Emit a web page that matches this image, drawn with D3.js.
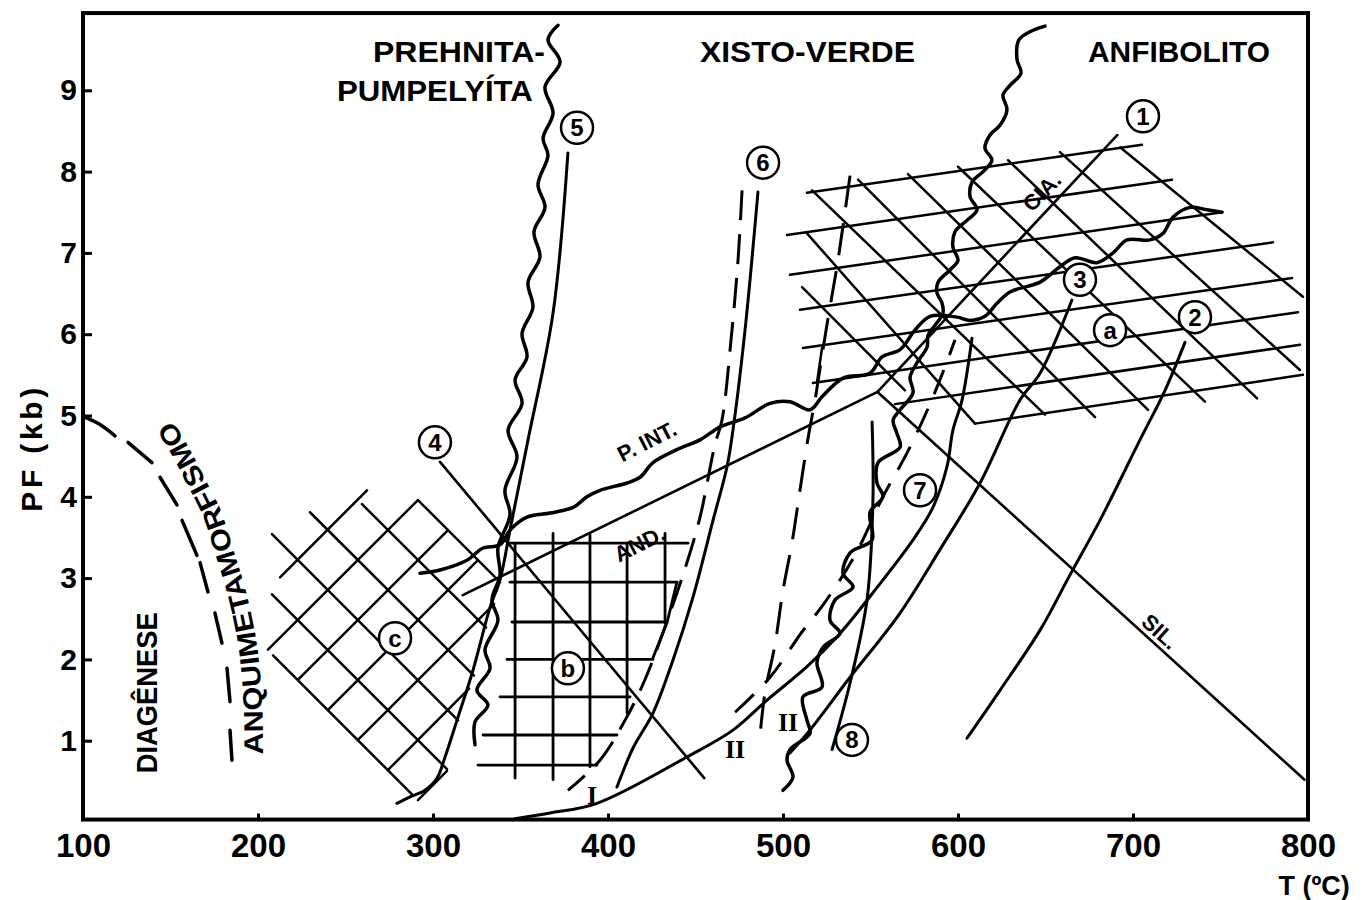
<!DOCTYPE html>
<html>
<head>
<meta charset="utf-8">
<script src="https://cdn.jsdelivr.net/npm/d3@7"></script>
<style>
  body { margin: 0; background: #fff; }
  text { font-family: "Liberation Sans", Arial, sans-serif; font-weight: bold; fill: #000; }
</style>
</head>
<body>
<svg id="chart" width="1364" height="900"></svg>
<script>
// axes
const xTicks = [100, 200, 300, 400, 500, 600, 700, 800];
const yTicks = [1, 2, 3, 4, 5, 6, 7, 8, 9];

// Al2SiO5 triple point lines [T, P]
const andKy = [[317, 2.79], [554, 5.29]];
const kySil = [[554, 5.29], [691, 8.45]];
const andSil = [[554, 5.29], [798, 0.52]];
const line4 = [[304, 4.43], [455, 0.54]];

// reaction curves
const curve5 = [[377.1, 8.23], [368.6, 6.26], [354.3, 4.70], [344, 3.59], [338.3, 2.98], [332.6, 2.64],
  [322.9, 1.87], [313.7, 1.25], [306.9, 0.80], [302.3, 0.54], [295.4, 0.39], [286.9, 0.31], [279.4, 0.23]];
const curve6 = [[485.7, 7.75], [478.3, 6.05], [471.4, 4.82], [468, 4.37], [460, 3.71], [448.6, 2.77],
  [437.1, 1.99], [425.7, 1.34], [414.3, 0.91], [405.1, 0.43]];
const curve7 = [[346.9, 0.04], [366.9, 0.11], [393.7, 0.23], [445.1, 0.80], [471.4, 1.13], [490.9, 1.50],
  [513.7, 1.91], [532.6, 2.32], [551.4, 2.82], [574.3, 3.47], [585.7, 3.87], [593.7, 4.37], [597.1, 4.82],
  [602.3, 5.19], [608, 5.95]];
const curve3 = [[665.1, 6.42], [646.9, 5.52], [635.4, 5.19], [612.6, 4.17], [589.7, 3.35], [566.9, 2.57],
  [538.3, 1.78], [515.4, 1.13], [504, 0.85]];
const curve2 = [[729.7, 5.90], [718.3, 5.31], [704, 4.70], [681.1, 3.71], [664, 3.04], [646.9, 2.36],
  [624, 1.62], [605.1, 1.03]];
const curve8 = [[550.9, 4.92], [551.4, 3.96], [548, 2.73], [538.3, 1.71], [528, 0.89]];

// dashed curves
const dash6 = [[476.6, 7.77], [474.3, 6.91], [470.3, 5.93], [465.1, 4.94], [461.1, 4.64], [452.6, 3.75],
  [445.1, 3.19], [435.4, 2.57], [421.1, 1.75], [409.7, 1.25], [395.4, 0.76], [377.1, 0.39]];
const dash500 = [[538.3, 7.95], [531.4, 6.91], [524.6, 6.05], [518.3, 5.19], [514.3, 4.72], [509.7, 4.08],
  [505.1, 3.43], [500, 2.85], [495.4, 2.18], [489.7, 1.59], [486.9, 1.07]];
const dashII = [[472.6, 1.35], [492.6, 1.78], [510.9, 2.34], [522.9, 2.67], [541.1, 3.28], [557.1, 4.00],
  [570.9, 4.54], [581.1, 5.00], [589.7, 5.44], [598.3, 5.93]];

// wavy facies boundaries
const wavyPrehnite = [[371.4, 9.80], [365.7, 9.62], [372.6, 9.35], [364, 9.04], [368.6, 8.72], [362.9, 8.41],
  [365.7, 8.20], [360, 7.84], [364, 7.56], [357.7, 7.26], [361.1, 6.95], [354.3, 6.64], [357.1, 6.33],
  [350.9, 6.01], [353.7, 5.72], [346.9, 5.44], [350.9, 5.15], [342.9, 4.82], [348, 4.49], [341.1, 4.08],
  [344, 3.78], [337.1, 3.37], [338.3, 3.04], [333.7, 2.73], [337.1, 2.48], [329.7, 2.12], [332.6, 1.89],
  [325.1, 1.62], [331.4, 1.44], [324, 1.23], [324, 0.95]];
const wavyPInt = [[292.6, 3.06], [304, 3.10], [319.4, 3.22], [328.6, 3.37], [338.3, 3.41], [344, 3.59],
  [353.7, 3.75], [366.9, 3.80], [380, 3.87], [388, 4.00], [395.4, 4.08], [410.9, 4.17], [418.3, 4.24],
  [425.7, 4.42], [439.4, 4.58], [452.6, 4.70], [464, 4.86], [478.3, 4.97], [492.6, 5.15], [504, 5.17],
  [515.4, 5.07], [522.3, 5.23], [534.3, 5.46], [549.7, 5.52], [556.6, 5.72], [566.9, 5.81], [575.4, 6.05],
  [584, 6.22], [599.4, 6.21], [606.9, 6.17], [615.4, 6.22], [622.3, 6.38], [629.7, 6.52], [646.9, 6.64],
  [658.3, 6.83], [666.9, 6.94], [679.4, 6.88], [688.6, 7.00], [696.6, 7.16], [709.7, 7.16], [717.1, 7.24],
  [722.9, 7.44], [732.6, 7.56], [742.3, 7.53], [750.9, 7.50]];
const wavyAmph = [[649.7, 9.79], [641.1, 9.72], [634.8, 9.62], [633.7, 9.38], [636, 9.21], [629.7, 9.06],
  [625.7, 8.94], [628, 8.76], [624, 8.57], [618.3, 8.45], [615.4, 8.29], [619.4, 8.14], [614.3, 8.00],
  [608, 7.87], [606.9, 7.69], [610.9, 7.53], [605.1, 7.40], [598.3, 7.26], [597.1, 7.07], [600, 6.91],
  [595.4, 6.79], [588.6, 6.64], [588, 6.51], [590.9, 6.38], [591.4, 6.26], [586.9, 6.11], [582.9, 5.99],
  [582.3, 5.84], [576.6, 5.65], [572.6, 5.47], [574.3, 5.28], [566.9, 5.07], [562.9, 4.94], [565.1, 4.78],
  [566.9, 4.61], [554.3, 4.42], [553.7, 4.17], [557.1, 4.00], [549.7, 3.81], [550.9, 3.47], [538.3, 3.31],
  [534.3, 3.06], [540, 2.89], [529.7, 2.73], [526.9, 2.48], [532.6, 2.32], [522.9, 2.15], [519.4, 1.96],
  [522.3, 1.66], [511.4, 1.54], [513.7, 1.25], [515.4, 1.09], [504, 0.89], [502.3, 0.76], [505.7, 0.55],
  [500, 0.39]];

// diagenesis / anchimetamorphism limit
const diaSolid = [[100, 4.99], [109.7, 4.89], [118.3, 4.75]];
const diaDashes = [
  [[125.7, 4.67], [139.4, 4.42]], [[144, 4.24], [153.7, 3.90]], [[156.6, 3.71], [165.1, 3.28]],
  [[166.9, 3.19], [171.4, 2.83]], [[175.4, 2.57], [179.4, 2.20]], [[182.3, 1.89], [184, 1.48]],
  [[184, 1.13], [185.1, 0.76]]];
const anqGuide = [[202.9, 0.66], [202.3, 1.50], [198.9, 2.24], [193.1, 2.83], [186.3, 3.32],
  [178.3, 3.85], [169.1, 4.25], [160.6, 4.60], [153.1, 4.87], [147.4, 5.04]];

// hatched field a
const gridA = [
  [[513.7, 7.74], [705.1, 8.33]], [[502.3, 7.22], [722.3, 7.90]], [[504, 6.73], [750.9, 7.50]],
  [[509.7, 6.30], [780, 7.13]], [[511.4, 5.83], [790.9, 6.69]], [[517.1, 5.40], [794.3, 6.27]],
  [[564, 5.14], [795.4, 5.87]], [[609.7, 4.90], [797.1, 5.50]],
  [[510.9, 6.58], [569.7, 5.31]], [[513.7, 7.24], [609.7, 4.90]], [[516.6, 7.77], [649.7, 5.01]],
  [[542.9, 7.90], [678.3, 4.98]], [[571.4, 7.97], [708.6, 5.07]], [[600, 8.06], [741.1, 5.17]],
  [[628.6, 8.14], [770.9, 5.21]], [[658.3, 8.24], [795.4, 5.56]], [[692.6, 8.30], [797.1, 6.46]],
  [[522.3, 5.83], [519.4, 5.40]]];

// hatched field b
const gridB = [
  [[346.9, 3.43], [346.9, 0.54]], [[368.6, 3.55], [368.6, 0.52]], [[389.7, 3.53], [389.7, 0.68]],
  [[410.9, 3.41], [410.9, 1.34]], [[432.6, 3.55], [432.6, 2.45]],
  [[344, 3.43], [445.7, 3.43]], [[344, 2.95], [439.4, 2.95]], [[345.1, 2.46], [433.7, 2.46]],
  [[342.3, 2.00], [425.7, 2.00]], [[338.3, 1.54], [412.6, 1.54]], [[328.6, 1.07], [405.1, 1.07]],
  [[325.7, 0.70], [393.7, 0.70]]];
const gridBEdge = [[439.4, 2.95], [433.7, 2.45], [425.7, 2.02]];

// hatched field c
const gridC = [
  [[208.6, 2.05], [288, 0.34]], [[208, 2.80], [308, 0.65]], [[208, 3.54], [314.3, 1.25]],
  [[229.7, 3.81], [323.4, 1.80]], [[259.4, 3.91], [330.3, 2.39]], [[291.4, 3.96], [338.3, 2.95]],
  [[212.6, 3.01], [262.3, 4.08]], [[205.7, 2.12], [291.4, 3.96]], [[222.9, 1.75], [308.6, 3.59]],
  [[240, 1.38], [325.7, 3.22]], [[257.1, 1.01], [334.9, 2.68]], [[274.3, 0.64], [320.6, 1.64]],
  [[291.4, 0.27], [308, 0.63]]];

// circled labels
const circleLabels = ["1", "2", "3", "4", "5", "6", "7", "8", "a", "b", "c"];
const circlePos = [[705.7, 8.68], [735.4, 6.21], [669.7, 6.67], [301.1, 4.67], [382.3, 8.54], [488.6, 8.11],
  [578.3, 4.08], [539.4, 1.01], [686.9, 6.05], [377.1, 1.89], [278.3, 2.26]];

// facies names
const faciesNames = ["PREHNITA-", "PUMPELYÍTA", "XISTO-VERDE", "ANFIBOLITO"];
const faciesPos = [[364, 9.35], [357.1, 8.87], [452.6, 9.35], [674.3, 9.35]];
const faciesAnchor = ["end", "end", "start", "start"];
const faciesLen = [172, 196, 215, 182];

// mineral labels along lines
const lineLabels = ["P. INT.", "AND.", "CIA.", "SIL."];
const lineLabelPos = [[422.3, 4.68], [418, 3.42], [648, 7.75], [715.4, 2.34]];
const lineLabelAngle = [-27, -27, -46, 42];
const lineLabelSize = [22, 22, 22, 22];

const romanLabels = ["I", "II", "II"];
const romanPos = [[390.9, 0.33], [472.6, 0.89], [502.9, 1.23]];

const svg = d3.select("#chart");
const x = d3.scaleLinear([100, 800], [83, 1308]);
const y = d3.scaleLinear([0, 10], [822, 9]);

const smooth = d3.line().x(d => x(d[0])).y(d => y(d[1])).curve(d3.curveCatmullRom.alpha(0.5));
const straight = d3.line().x(d => x(d[0])).y(d => y(d[1]));

const draw = (pts, gen, width, dash) => {
  const p = svg.append("path")
    .attr("d", gen(pts))
    .attr("fill", "none")
    .attr("stroke", "#000")
    .attr("stroke-width", width)
    .attr("stroke-linecap", "round")
    .attr("stroke-linejoin", "round");
  if (dash) p.attr("stroke-dasharray", dash).attr("stroke-linecap", "butt");
  return p;
};

// frame
svg.append("rect")
  .attr("x", x(100)).attr("y", y(9.95))
  .attr("width", x(800) - x(100)).attr("height", y(0.03) - y(9.95))
  .attr("fill", "none").attr("stroke", "#000").attr("stroke-width", 4);

// axes
const styleAxis = (g, size) => {
  g.select(".domain").remove();
  g.selectAll(".tick line").attr("stroke-width", 3);
  g.selectAll("text")
    .attr("font-family", "Liberation Sans, Arial, sans-serif")
    .attr("font-weight", "bold")
    .attr("font-size", size);
};
svg.append("g")
  .attr("transform", `translate(${x(100)},0)`)
  .call(d3.axisLeft(y).tickValues(yTicks).tickSizeInner(-9).tickSizeOuter(0).tickPadding(6))
  .call(g => styleAxis(g, 30));
svg.append("g")
  .attr("transform", `translate(0,${y(0.03)})`)
  .call(d3.axisBottom(x).tickValues(xTicks).tickSizeInner(-6).tickSizeOuter(0).tickPadding(14))
  .call(g => styleAxis(g, 33));

svg.append("text")
  .attr("transform", `translate(${x(76.6)},${y(4.58)}) rotate(-90)`)
  .attr("text-anchor", "middle")
  .attr("font-size", 30)
  .attr("textLength", 124)
  .text("PF (kb)");
svg.append("text")
  .attr("x", x(803.5)).attr("y", y(-0.9))
  .attr("text-anchor", "middle")
  .attr("font-size", 27)
  .text("T (ºC)");

// hatched fields
gridA.forEach(s => draw(s, straight, 2.5));
gridB.forEach(s => draw(s, straight, 2.8));
draw(gridBEdge, straight, 2.8);
gridC.forEach(s => draw(s, straight, 2.5));

// Al2SiO5 system and line 4
[andKy, kySil, andSil, line4].forEach(s => draw(s, straight, 2.6));

// curves
[curve5, curve6, curve7, curve3, curve2, curve8].forEach(s => draw(s, smooth, 3));

// dashed curves
draw(dash6, smooth, 3, "30,14");
draw(dash500, smooth, 3, "32,16");
draw(dashII, smooth, 3, "26,16");

// wavy boundaries
[wavyPrehnite, wavyPInt, wavyAmph].forEach(s => draw(s, smooth, 3.5));

// diagenesis limit
draw(diaSolid, smooth, 3.5);
diaDashes.forEach(s => draw(s, straight, 3.5));

svg.append("path").attr("id", "anqGuide").attr("d", smooth(anqGuide)).attr("fill", "none");
svg.append("text")
  .attr("font-size", 27)
  .append("textPath")
  .attr("href", "#anqGuide")
  .attr("startOffset", 14)
  .attr("textLength", 352)
  .attr("lengthAdjust", "spacingAndGlyphs")
  .text("ANQUIMETAMORFISMO");

svg.append("text")
  .attr("transform", `translate(${x(142.3)},${y(1.59)}) rotate(-90)`)
  .attr("text-anchor", "middle")
  .attr("font-size", 30)
  .attr("textLength", 161)
  .attr("lengthAdjust", "spacingAndGlyphs")
  .text("DIAGÊNESE");

// facies names
faciesNames.forEach((t, i) => {
  svg.append("text")
    .attr("x", x(faciesPos[i][0])).attr("y", y(faciesPos[i][1]))
    .attr("text-anchor", faciesAnchor[i])
    .attr("font-size", 30)
    .attr("textLength", faciesLen[i])
    .attr("lengthAdjust", "spacingAndGlyphs")
    .text(t);
});

// line labels
lineLabels.forEach((t, i) => {
  svg.append("text")
    .attr("transform", `translate(${x(lineLabelPos[i][0])},${y(lineLabelPos[i][1])}) rotate(${lineLabelAngle[i]})`)
    .attr("text-anchor", "middle")
    .attr("dominant-baseline", "central")
    .attr("font-size", lineLabelSize[i])
    .text(t);
});

romanLabels.forEach((t, i) => {
  svg.append("text")
    .attr("x", x(romanPos[i][0])).attr("y", y(romanPos[i][1]))
    .attr("text-anchor", "middle")
    .attr("dominant-baseline", "central")
    .attr("font-size", 26)
    .attr("style", "font-family:'Liberation Serif',serif")
    .text(t);
});

// circled labels
circleLabels.forEach((t, i) => {
  const cx = x(circlePos[i][0]), cy = y(circlePos[i][1]);
  svg.append("circle")
    .attr("cx", cx).attr("cy", cy).attr("r", 16)
    .attr("fill", "#fff").attr("stroke", "#000").attr("stroke-width", 2.5);
  svg.append("text")
    .attr("x", cx).attr("y", cy)
    .attr("text-anchor", "middle")
    .attr("dominant-baseline", "central")
    .attr("font-size", 24)
    .text(t);
});
</script>
</body>
</html>
